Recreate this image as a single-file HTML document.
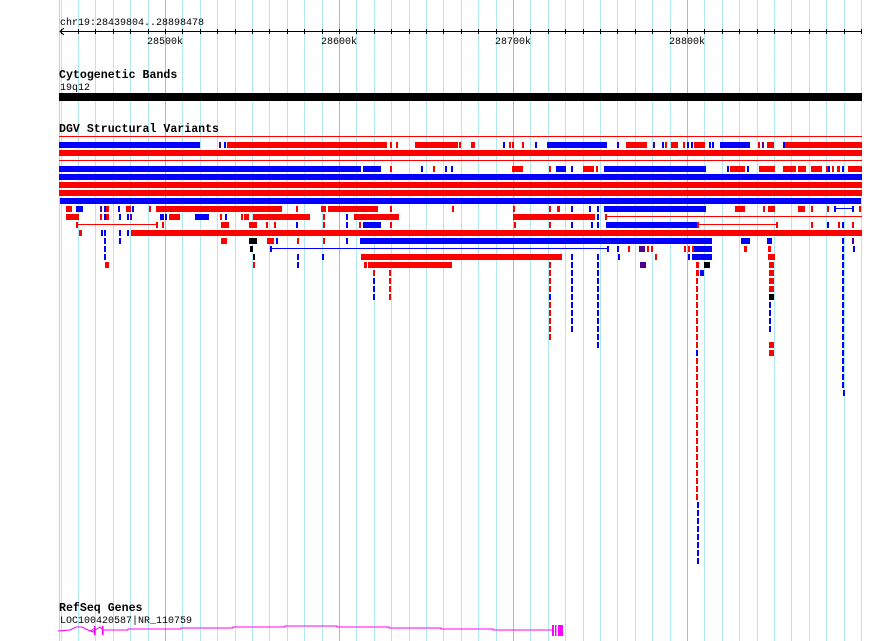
<!DOCTYPE html>
<html><head><meta charset="utf-8"><style>
html,body{margin:0;padding:0;background:#fff}
svg{display:block}
text{font-family:"Liberation Mono",monospace}
</style></head><body>
<svg id="s" width="890" height="641" xmlns="http://www.w3.org/2000/svg">
<rect width="890" height="641" fill="#fff"/>
<g id="grid"></g>
<text x="60" y="25" font-size="10">chr19:28439804..28898478</text>
<line x1="60" y1="31.5" x2="862" y2="31.5" stroke="#000"/>
<polyline points="64,28 60,31.5 64,35" fill="none" stroke="#000"/>
<g id="ticks"></g>
<text x="147" y="44" font-size="10">28500k</text>
<text x="321" y="44" font-size="10">28600k</text>
<text x="495" y="44" font-size="10">28700k</text>
<text x="669" y="44" font-size="10">28800k</text>
<text x="59" y="78" font-size="11.6" font-weight="bold">Cytogenetic Bands</text>
<text x="60" y="90" font-size="10">19q12</text>
<rect x="59" y="93" width="803" height="8" fill="#000"/>
<text x="59" y="132" font-size="11.6" font-weight="bold">DGV Structural Variants</text>
<g id="dgv"></g>
<text x="59" y="611" font-size="11.6" font-weight="bold">RefSeq Genes</text>
<text x="60" y="623" font-size="10">LOC100420587|NR_110759</text>
<polyline fill="none" stroke="#ff00ff" stroke-width="1" points="58,631 70,630 76,627 82,627 88,630 93,632"/>
<polyline fill="none" stroke="#ff00ff" stroke-width="1" points="93,631 97,629 100,627 103,630 128,630 128,629 181,629 181,628 233,628 233,627 285,627 285,626 337,626 337,627 389,627 389,628 441,628 441,629 493,629 493,630 552,630"/>
<polyline fill="none" stroke="#ff00ff" points="95,628 91,630.5 95,633"/>
<rect x="94" y="626" width="1.5" height="9" fill="#ff00ff"/>
<rect x="102" y="626" width="1.5" height="9" fill="#ff00ff"/>
<rect x="552" y="625" width="2" height="11" fill="#ff00ff"/>
<rect x="555" y="625" width="1.5" height="11" fill="#ff00ff"/>
<rect x="558" y="625" width="5" height="11" fill="#ff00ff"/>
</svg>
<script>
var NS="http://www.w3.org/2000/svg";
function el(p,t,a){var e=document.createElementNS(NS,t);for(var k in a)e.setAttribute(k,a[k]);document.getElementById(p).appendChild(e);return e;}
for(var i=0;i<47;i++){var x=60.6+17.4*i;if(x>863)break;var xx=Math.round(x)+0.5;
 var maj=[6,16,26,36].indexOf(i)>=0;
 el("grid","line",{x1:xx,y1:0,x2:xx,y2:641,stroke:maj?"#80c8e8":"#b0e8f0","stroke-width":1});
 el("ticks","line",{x1:xx,y1:29,x2:xx,y2:34,stroke:"#000"});}
el("grid","line",{x1:59.5,y1:0,x2:59.5,y2:641,stroke:"#a0e0f0"});
var C={r:"#ff0000",b:"#0000ff",p:"#500090",k:"#000000"};
function R(y,list){list.forEach(function(a){var c=C[a[2]||"r"];
 if(a[3]=="l"){el("dgv","rect",{x:a[0],y:y+2,width:a[1]-a[0],height:1,fill:c});}
 else el("dgv","rect",{x:a[0],y:y,width:Math.max(1.5,a[1]-a[0]),height:6,fill:c});});}
el("dgv","rect",{x:59,y:136,width:803,height:1,fill:"#f00"});
el("dgv","rect",{x:59,y:160,width:803,height:1,fill:"#f00"});
R(142,[[59,200,"b"],[219,221,"p"],[224,226,"b"],[227,387],[390,392],[396,398],[415,458],[459,461],[471,475],[503,505,"b"],[509,511],[512,514],[522,524],[535,537,"b"],[547,607,"b"],[617,619,"b"],[626,647],[653,655,"p"],[662,664,"b"],[665,667],[671,678],[683,685],[687,689,"b"],[691,693,"b"],[694,705],[709,711,"b"],[712,714,"b"],[720,750,"b"],[758,760],[762,764,"p"],[767,774],[783,785,"b"],[785,862]]);
R(150,[[59,862]]);
R(166,[[59,361,"b"],[363,381,"b"],[390,392],[421,423,"b"],[433,435],[445,447,"b"],[451,453,"b"],[512,523],[549,551],[556,566,"b"],[571,573,"b"],[583,594],[596,598],[604,706,"b"],[727,729,"b"],[730,735],[735,745],[747,749,"b"],[759,775],[783,796],[798,806],[811,822],[826,828],[828,830,"b"],[832,834],[837,840],[842,844,"b"],[848,862]]);
R(174,[[59,862,"b"]]);R(182,[[59,862]]);R(190,[[59,862]]);R(198,[[60,861,"b"]]);
R(206,[[66,72],[76,83,"b"],[100,102,"p"],[104,106,"b"],[106,109],[118,120,"b"],[126,131],[132,134,"b"],[149,151],[156,282],[296,298],[321,326],[328,378],[390,392],[452,454],[513,515],[549,551],[557,560],[571,573,"b"],[589,591,"b"],[597,599,"b"],[604,706,"b"],[735,745],[763,765],[768,775],[798,805],[811,813],[827,829],[834,836,"b"],[835,853,"b","l"],[852,854,"b"],[859,861]]);
R(214,[[66,79],[100,102],[104,106,"b"],[106,109],[119,121,"b"],[127,129,"b"],[130,132,"p"],[160,164,"b"],[165,167,"b"],[169,180],[195,209,"b"],[220,222],[225,227,"b"],[241,243],[244,249],[253,310],[323,325],[346,348,"b"],[354,399],[513,595],[597,599,"b"],[605,607],[606,862,"r","l"]]);
R(222,[[76,78],[77,156,"r","l"],[156,158],[162,164],[221,229],[249,257],[266,268],[274,276],[296,298,"b"],[323,325],[346,348,"b"],[359,361],[363,381,"b"],[390,392],[514,516],[549,551],[571,573,"b"],[591,593,"b"],[597,599,"b"],[606,697,"b"],[697,699],[699,777,"r","l"],[776,778],[811,813],[827,829,"b"],[838,840],[842,844,"b"],[852,854]]);
R(230,[[79,82],[101,103,"b"],[104,106,"b"],[119,121,"b"],[127,129,"b"],[131,862]]);
R(238,[[104,106,"b"],[119,121,"b"],[221,227],[249,257,"k"],[267,274],[276,278,"b"],[297,299],[323,325],[346,348,"b"],[360,712,"b"],[741,750,"b"],[767,772,"b"],[842,844,"b"],[852,854,"p"]]);
R(246,[[104,106,"b"],[250,253,"k"],[270,607,"b","l"],[270,272,"b"],[607,609,"b"],[617,619,"b"],[628,630],[639,645,"p"],[647,649],[651,653],[684,686],[688,690],[692,694],[694,712,"b"],[744,747],[768,771],[842,844,"b"],[853,855,"b"]]);
R(254,[[104,106,"b"],[253,255,"k"],[297,299,"b"],[322,324,"b"],[361,562],[571,573,"b"],[597,599,"b"],[618,620,"b"],[655,657],[688,690,"b"],[692,712,"b"],[768,775],[842,844,"b"]]);
R(262,[[105,109],[253,255],[297,299,"b"],[364,367],[368,452],[549,551],[571,573,"b"],[597,599,"b"],[640,646,"p"],[696,699],[704,710,"k"],[842,844,"b"]]);
R(270,[[373,375],[389,391],[549,551],[571,573,"b"],[597,599,"b"],[696,699],[700,704,"b"],[842,844,"b"]]);
function col(x,y0,y1,c,w){for(var y=y0;y<=y1;y+=8)el("dgv","rect",{x:x,y:y,width:w||2,height:6,fill:C[c]});}
col(373,278,294,"b");col(389,278,294,"r");
col(549,278,286,"r");col(549,294,294,"b");col(549,302,334,"r");
col(571,278,326,"b");col(597,278,342,"b");
col(696,278,342,"r");col(696,350,350,"b");col(696,358,494,"r");col(697,502,558,"b");
col(769,262,286,"r",5);col(769,294,294,"k",5);
col(769,302,326,"b");col(769,342,350,"r",5);
col(842,278,382,"b");col(843,390,390,"b");
</script>
</body></html>
